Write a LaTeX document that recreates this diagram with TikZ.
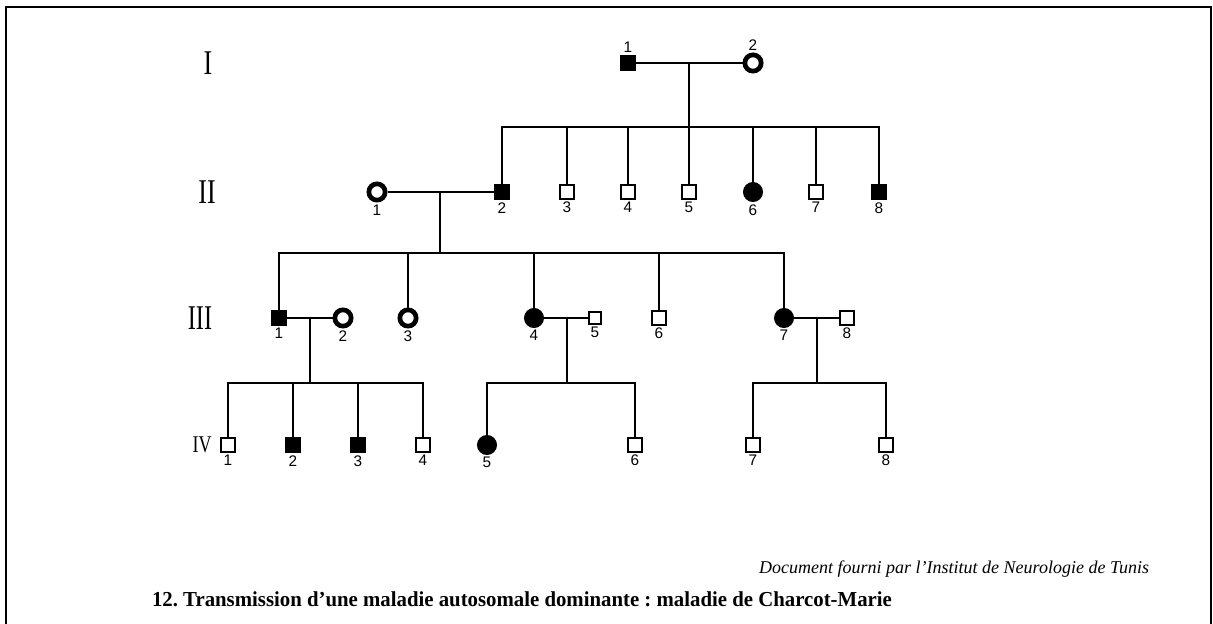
\documentclass[tikz,border=0pt]{standalone}
\usepackage{fontspec}
\setmainfont{Liberation Serif}
\setsansfont{Liberation Sans}
\usetikzlibrary{positioning}
\begin{document}
\begin{tikzpicture}[x=0.75pt,y=-0.75pt,line width=1.5pt,
  num/.style={font=\sffamily\fontsize{11.5}{13}\selectfont,inner sep=1pt},
  every label/.append style={num},
  male/.style={draw,rectangle,inner sep=0pt,minimum size=10pt,line width=1.5pt,fill=white,label distance=1.5pt},
  maleaff/.style={male,fill=black,minimum size=10.5pt},
  female/.style={draw,circle,inner sep=0pt,minimum size=12.25pt,line width=3.5pt,fill=white,label distance=1pt},
  femaleaff/.style={draw,circle,inner sep=0pt,minimum size=14pt,line width=1pt,fill=black,label distance=1pt},
  gen/.style={font=\fontsize{26}{26}\selectfont,inner sep=0pt}]
  \useasboundingbox (0,0) rectangle (1213,624);
  \draw[line width=2pt] (6,624) -- (6,7) -- (1211,7) -- (1211,624);
  \node[gen] (gi) at (208,63) {\scalebox{.75}[1]{I}};
  \node[gen] (gii) at (207,192) {\scalebox{.75}[1]{II}};
  \node[gen] (giii) at (200,318) {\scalebox{.7}[1]{III}};
  \node[gen,font=\fontsize{18}{18}\selectfont] (giv) at (202,445) {\scalebox{.75}[1]{IV}};
  \node[maleaff,label=above:1] (i1) at (628,63) {};
  \node[female,label=above:2] (i2) at (753,63) {};
  \coordinate (mi) at (689,63);
  \coordinate (si) at (689,127);
  \node[female,label=below:1] (ii1) at (377,192) {};
  \node[maleaff,label=below:2] (ii2) at (502,192) {};
  \node[male,label=below:3] (ii3) at (567,192) {};
  \node[male,label=below:4] (ii4) at (628,192) {};
  \node[male,label=below:5] (ii5) at (689,192) {};
  \node[femaleaff,label=below:6] (ii6) at (753,192) {};
  \node[male,label=below:7] (ii7) at (816,192) {};
  \node[maleaff,label=below:8] (ii8) at (879,192) {};
  \coordinate (mii) at (440,192);
  \coordinate (sii) at (440,253);
  \node[maleaff,minimum size=10pt,label=below:1] (iii1) at (279,318) {};
  \node[female,label=below:2] (iii2) at (343,318) {};
  \node[female,label=below:3] (iii3) at (408,318) {};
  \node[femaleaff,label=below:4] (iii4) at (534,318) {};
  \node[male,minimum size=8.5pt,label=below:5] (iii5) at (595,318) {};
  \node[male,label=below:6] (iii6) at (659,318) {};
  \node[femaleaff,label=below:7] (iii7) at (784,318) {};
  \node[male,label=below:8] (iii8) at (847,318) {};
  \coordinate (miia) at (310,318); \coordinate (siia) at (310,383);
  \coordinate (miib) at (567,318); \coordinate (siib) at (567,383);
  \coordinate (miic) at (817,318); \coordinate (siic) at (817,383);
  \node[male,label=below:1] (iv1) at (228,445) {};
  \node[maleaff,label=below:2] (iv2) at (293,445) {};
  \node[maleaff,label=below:3] (iv3) at (358,445) {};
  \node[male,label=below:4] (iv4) at (423,445) {};
  \node[femaleaff,label=below:5] (iv5) at (487,445) {};
  \node[male,label=below:6] (iv6) at (635,445) {};
  \node[male,label=below:7] (iv7) at (753,445) {};
  \node[male,label=below:8] (iv8) at (886,445) {};
  \draw (i1) -- (i2); \draw (mi) -- (si);
  \foreach \c in {ii2,ii3,ii4,ii5,ii6,ii7,ii8} \draw (si) -| (\c);
  \draw (ii1) -- (ii2); \draw (mii) -- (sii);
  \foreach \c in {iii1,iii3,iii4,iii6,iii7} \draw (sii) -| (\c);
  \draw (iii1) -- (iii2); \draw (miia) -- (siia);
  \foreach \c in {iv1,iv2,iv3,iv4} \draw (siia) -| (\c);
  \draw (iii4) -- (iii5); \draw (miib) -- (siib);
  \foreach \c in {iv5,iv6} \draw (siib) -| (\c);
  \draw (iii7) -- (iii8); \draw (miic) -- (siic);
  \foreach \c in {iv7,iv8} \draw (siic) -| (\c);
  \node[anchor=base east,inner sep=0pt,font=\itshape\fontsize{13.5}{16}\selectfont] (src) at (1150,573) {Document fourni par l'Institut de Neurologie de Tunis};
  \node[anchor=base west,inner sep=0pt,font=\bfseries\fontsize{16}{18}\selectfont] (cap) at (151,606) {\frenchspacing\scalebox{.975}[1]{12. Transmission d'une maladie autosomale dominante : maladie de Charcot-Marie}};
\end{tikzpicture}
\end{document}
